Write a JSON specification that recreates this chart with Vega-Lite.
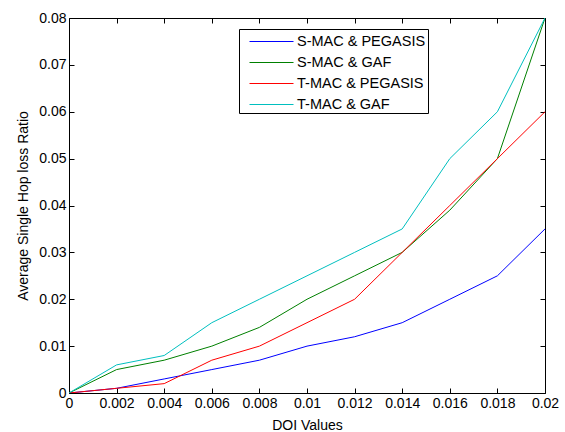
{
  "$schema": "https://vega.github.io/schema/vega-lite/v6.json",
  "width": 476,
  "height": 375,
  "autosize": {"type": "none"},
  "padding": {"left": 69, "top": 18, "right": 20, "bottom": 39},
  "background": "white",
  "config": {
    "font": "Liberation Sans",
    "view": {"stroke": "black", "strokeWidth": 1},
    "axis": {
      "grid": false,
      "domain": false,
      "tickColor": "black",
      "tickSize": -5,
      "labelFlush": false,
      "labelOverlap": false
    }
  },
  "data": {
    "values": [
      {"doi": 0, "s": "S-MAC & PEGASIS", "v": 0},
      {"doi": 0.002, "s": "S-MAC & PEGASIS", "v": 0.001},
      {"doi": 0.004, "s": "S-MAC & PEGASIS", "v": 0.003},
      {"doi": 0.006, "s": "S-MAC & PEGASIS", "v": 0.005},
      {"doi": 0.008, "s": "S-MAC & PEGASIS", "v": 0.007},
      {"doi": 0.010, "s": "S-MAC & PEGASIS", "v": 0.010},
      {"doi": 0.012, "s": "S-MAC & PEGASIS", "v": 0.012},
      {"doi": 0.014, "s": "S-MAC & PEGASIS", "v": 0.015},
      {"doi": 0.016, "s": "S-MAC & PEGASIS", "v": 0.020},
      {"doi": 0.018, "s": "S-MAC & PEGASIS", "v": 0.025},
      {"doi": 0.020, "s": "S-MAC & PEGASIS", "v": 0.035},
      {"doi": 0, "s": "S-MAC & GAF", "v": 0},
      {"doi": 0.002, "s": "S-MAC & GAF", "v": 0.005},
      {"doi": 0.004, "s": "S-MAC & GAF", "v": 0.007},
      {"doi": 0.006, "s": "S-MAC & GAF", "v": 0.010},
      {"doi": 0.008, "s": "S-MAC & GAF", "v": 0.014},
      {"doi": 0.010, "s": "S-MAC & GAF", "v": 0.020},
      {"doi": 0.012, "s": "S-MAC & GAF", "v": 0.025},
      {"doi": 0.014, "s": "S-MAC & GAF", "v": 0.030},
      {"doi": 0.016, "s": "S-MAC & GAF", "v": 0.039},
      {"doi": 0.018, "s": "S-MAC & GAF", "v": 0.050},
      {"doi": 0.020, "s": "S-MAC & GAF", "v": 0.080},
      {"doi": 0, "s": "T-MAC & PEGASIS", "v": 0},
      {"doi": 0.002, "s": "T-MAC & PEGASIS", "v": 0.001},
      {"doi": 0.004, "s": "T-MAC & PEGASIS", "v": 0.002},
      {"doi": 0.006, "s": "T-MAC & PEGASIS", "v": 0.007},
      {"doi": 0.008, "s": "T-MAC & PEGASIS", "v": 0.010},
      {"doi": 0.010, "s": "T-MAC & PEGASIS", "v": 0.015},
      {"doi": 0.012, "s": "T-MAC & PEGASIS", "v": 0.020},
      {"doi": 0.014, "s": "T-MAC & PEGASIS", "v": 0.030},
      {"doi": 0.016, "s": "T-MAC & PEGASIS", "v": 0.040},
      {"doi": 0.018, "s": "T-MAC & PEGASIS", "v": 0.050},
      {"doi": 0.020, "s": "T-MAC & PEGASIS", "v": 0.060},
      {"doi": 0, "s": "T-MAC & GAF", "v": 0},
      {"doi": 0.002, "s": "T-MAC & GAF", "v": 0.006},
      {"doi": 0.004, "s": "T-MAC & GAF", "v": 0.008},
      {"doi": 0.006, "s": "T-MAC & GAF", "v": 0.015},
      {"doi": 0.008, "s": "T-MAC & GAF", "v": 0.020},
      {"doi": 0.010, "s": "T-MAC & GAF", "v": 0.025},
      {"doi": 0.012, "s": "T-MAC & GAF", "v": 0.030},
      {"doi": 0.014, "s": "T-MAC & GAF", "v": 0.035},
      {"doi": 0.016, "s": "T-MAC & GAF", "v": 0.050},
      {"doi": 0.018, "s": "T-MAC & GAF", "v": 0.060},
      {"doi": 0.020, "s": "T-MAC & GAF", "v": 0.080}
    ]
  },
  "layer": [
    {
      "mark": {"type": "line", "strokeWidth": 1, "clip": true},
      "encoding": {
        "x": {
          "field": "doi", "type": "quantitative",
          "scale": {"domain": [0, 0.02], "nice": false},
          "axis": {"title": "DOI Values", "values": [0,0.002,0.004,0.006,0.008,0.01,0.012,0.014,0.016,0.018,0.02], "format": "~g", "labelPadding": 8, "titlePadding": 8,
            "labelFont": "Liberation Sans", "labelFontSize": 14, "labelColor": "black",
            "titleFont": "Liberation Sans", "titleFontSize": 14, "titleFontWeight": "normal", "titleColor": "black"}
        },
        "y": {
          "field": "v", "type": "quantitative",
          "scale": {"domain": [0, 0.08], "nice": false},
          "axis": {"title": "Average Single Hop loss Ratio", "values": [0,0.01,0.02,0.03,0.04,0.05,0.06,0.07,0.08], "format": "~g", "labelPadding": 8, "titlePadding": 8,
            "labelFont": "Liberation Sans", "labelFontSize": 14, "labelColor": "black",
            "titleFont": "Liberation Sans", "titleFontSize": 14, "titleFontWeight": "normal", "titleColor": "black"}
        },
        "color": {
          "field": "s", "type": "nominal",
          "sort": ["S-MAC & PEGASIS", "S-MAC & GAF", "T-MAC & PEGASIS", "T-MAC & GAF"],
          "scale": {"domain": ["S-MAC & PEGASIS", "S-MAC & GAF", "T-MAC & PEGASIS", "T-MAC & GAF"], "range": ["#0000ff", "#008000", "#ff0000", "#00bfbf"]},
          "legend": {
            "title": null,
            "orient": "none",
            "legendX": 170,
            "legendY": 11,
            "strokeColor": "black",
            "fillColor": "white",
            "padding": 2,
            "symbolType": "M-2.2,0H2.2",
            "symbolStrokeWidth": 1,
            "symbolSize": 400,
            "symbolOffset": 20,
            "labelFontSize": 14.5,
            "labelFont": "Liberation Sans",
            "labelColor": "black",
            "rowPadding": 4,
            "labelOffset": 15
          }
        }
      }
    },
    {
      "mark": {"type": "line", "opacity": 0},
      "encoding": {
        "x": {"field": "doi", "type": "quantitative", "axis": {"orient": "top", "labels": false, "title": null, "values": [0,0.002,0.004,0.006,0.008,0.01,0.012,0.014,0.016,0.018,0.02]}},
        "y": {"field": "v", "type": "quantitative", "axis": {"orient": "right", "labels": false, "title": null, "values": [0,0.01,0.02,0.03,0.04,0.05,0.06,0.07,0.08]}},
        "detail": {"field": "s"}
      }
    }
  ],
  "resolve": {"axis": {"x": "independent", "y": "independent"}}
}
